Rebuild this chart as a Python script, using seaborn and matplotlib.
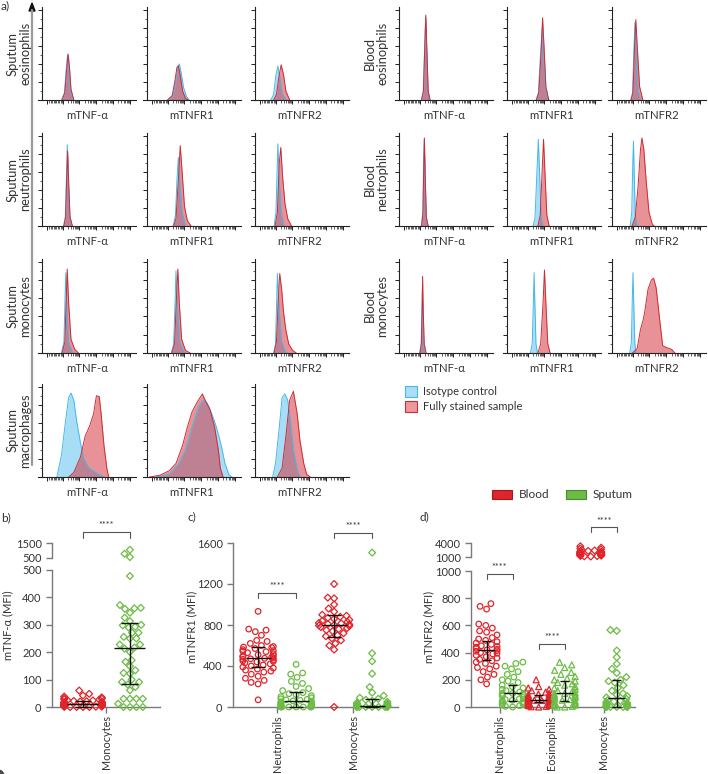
import warnings
import numpy as np
import pandas as pd
import matplotlib
matplotlib.use('Agg')
import matplotlib.pyplot as plt
from matplotlib.patches import Patch, Polygon
from matplotlib.lines import Line2D
import matplotlib.transforms as mtransforms
import seaborn as sns

warnings.filterwarnings('ignore')

# ---------------- a) flow histograms: (x % of axis, height % of mode) ----------------
hist_markers = ['mTNF-α', 'mTNFR1', 'mTNFR2']

# each panel: (isotype control, fully stained sample)
sputum_eos = [
    ([(21, 0), (24, 8), (26, 35), (27.3, 50), (28.5, 38), (30, 12), (33, 0)],
     [(21.5, 0), (24.5, 8), (26.5, 35), (28, 51), (29.5, 35), (31, 12), (34, 0)]),
    ([(23, 0), (28, 5), (31, 22), (33, 36), (34.5, 40), (36.5, 30), (39, 14), (42, 4), (45, 0)],
     [(22, 0), (27, 5), (30, 22), (32, 36), (33.5, 38), (35.5, 27), (38, 10), (41, 2), (44, 0)]),
    ([(17, 0), (20, 6), (22.5, 28), (24.5, 37.5), (26.5, 26), (29, 8), (33, 0)],
     [(20, 0), (23, 6), (25.5, 25), (28, 39), (30.5, 28), (33, 10), (37, 0)]),
]
sputum_neu = [
    ([(23, 0), (25, 10), (26.3, 60), (27, 90), (28, 55), (29.5, 12), (32, 0)],
     [(23.5, 0), (25.3, 10), (26.5, 55), (27.5, 83), (28.5, 50), (30, 10), (32.5, 0)]),
    ([(28, 0), (30.5, 12), (32, 50), (33.5, 76), (35, 50), (37.5, 15), (41, 0)],
     [(28.5, 0), (31, 8), (33.5, 50), (35.5, 89), (37.5, 60), (40, 22), (43, 6), (47, 0)]),
    ([(20.5, 0), (22.5, 15), (23.8, 65), (24.5, 91), (25.8, 55), (28, 15), (31, 0)],
     [(21.5, 0), (24, 15), (26, 70), (27.6, 87), (29.5, 55), (32, 25), (35, 8), (39, 0)]),
]
sputum_mono = [
    ([(21, 0), (23.5, 12), (24.7, 60), (25.5, 88), (26.5, 50), (28.5, 12), (32, 2), (34, 0)],
     [(21.5, 0), (24.5, 12), (26, 60), (27, 92), (28.5, 55), (31, 15), (35, 4), (39, 0)]),
    ([(26, 0), (28.5, 10), (30, 55), (31, 90), (32.3, 55), (35, 12), (39, 2), (42, 0)],
     [(26.5, 0), (29.5, 10), (31.5, 60), (33, 92), (34.5, 55), (37, 15), (41, 3), (46, 0)]),
    ([(20, 0), (22, 10), (23.2, 55), (24, 87), (25.5, 55), (28, 15), (32, 2), (35, 0)],
     [(20.5, 0), (23, 12), (25, 60), (26.5, 87), (28.5, 70), (30.5, 45), (33, 25), (36, 10), (40, 3), (44, 0)]),
]
sputum_mac = [
    ([(16, 0), (21, 25), (25, 60), (28.5, 88), (31, 93), (34, 85), (37, 62), (41, 38),
      (44.6, 20), (50, 10), (59, 4), (66, 0)],
     [(28.5, 0), (34, 5), (41, 22), (46, 45), (51, 57), (55, 70), (58, 90), (61, 89),
      (63, 70), (66, 35), (69, 10), (71, 0)]),
    ([(10, 0), (24, 3), (34, 15), (41, 30), (48, 55), (55, 78), (60, 85), (64, 82), (69, 70),
      (74, 55), (79, 35), (83, 15), (87, 3), (90, 0)],
     [(3, 0), (14, 2), (24, 7), (31, 15), (38, 35), (43, 55), (48, 72), (53, 82), (59, 92),
      (62, 85), (67, 75), (72, 55), (76, 30), (78, 10), (81, 0)]),
    ([(19, 0), (22, 15), (26, 55), (29, 88), (32, 92), (35, 85), (38, 60), (41, 30), (45, 8), (48, 0)],
     [(24, 0), (29, 10), (33, 45), (37, 85), (41, 95), (45, 70), (48, 40), (52, 15), (55, 3), (59, 0)]),
]
blood_eos = [
    ([(24, 0), (26, 10), (27.5, 60), (28.5, 92), (29.5, 60), (31, 10), (33, 0)],
     [(24.2, 0), (26.2, 10), (27.7, 62), (28.7, 94), (29.7, 60), (31.2, 10), (33.2, 0)]),
    ([(31, 0), (33.5, 8), (35.5, 45), (37.5, 79), (39, 50), (41, 12), (44, 0)],
     [(31.5, 0), (34, 8), (36.5, 55), (38, 91), (39.5, 60), (41.5, 15), (44.5, 0)]),
    ([(20, 0), (22, 8), (23.5, 55), (24.5, 86), (25.8, 55), (28, 10), (31, 0)],
     [(20.5, 0), (22.5, 8), (24.2, 60), (25.5, 89), (27, 60), (29.5, 15), (33, 0)]),
]
blood_neu = [
    ([(24, 0), (25.5, 15), (26.4, 70), (27, 96), (27.8, 60), (29, 10), (31, 0)],
     [(24.2, 0), (25.7, 15), (26.6, 70), (27.2, 97.5), (28, 60), (29.2, 10), (31.2, 0)]),
    ([(28, 0), (30, 10), (32, 60), (33.5, 96), (34.8, 60), (36.5, 10), (38.5, 0)],
     [(33, 0), (35.5, 12), (37.5, 60), (39, 96), (40.5, 60), (42.5, 12), (45, 0)]),
    ([(19.5, 0), (21.2, 15), (22.3, 70), (23, 94), (23.8, 60), (25, 10), (27, 0)],
     [(21.5, 0), (25, 10), (28, 45), (30.5, 85), (32, 97.5), (34, 85), (36.5, 50), (39.5, 15), (43, 2), (45, 0)]),
]
blood_mono = [
    ([(22, 0), (23.8, 10), (24.5, 40), (25, 70), (25.6, 40), (26.5, 8), (28, 0)],
     [(22.5, 0), (24, 10), (24.8, 50), (25.3, 84), (26, 45), (27, 10), (29, 0)]),
    ([(25, 0), (27, 10), (28.2, 55), (29, 88), (29.8, 55), (31, 10), (32.5, 0)],
     [(33, 0), (36, 10), (38.5, 55), (40, 91), (41.5, 55), (43.5, 10), (46, 0)]),
    ([(19, 0), (20.8, 12), (21.8, 60), (22.5, 88), (23.3, 55), (24.5, 10), (26, 0)],
     [(22, 0), (27, 5), (30.5, 26), (33, 35), (35, 45), (38.5, 70), (42, 80), (44.4, 82),
      (47, 72), (51, 35), (54, 8), (58, 6), (63.5, 4), (67, 0)]),
]

sputum_rows = [('Sputum\neosinophils', sputum_eos), ('Sputum\nneutrophils', sputum_neu),
               ('Sputum\nmonocytes', sputum_mono), ('Sputum\nmacrophages', sputum_mac)]
blood_rows = [('Blood\neosinophils', blood_eos), ('Blood\nneutrophils', blood_neu),
              ('Blood\nmonocytes', blood_mono)]

# ---------------- b-d) MFI per subject ----------------
b_blood_mono = [0, 0, 0, 0, 1, 1, 2, 2, 3, 3, 4, 4, 5, 5, 6, 6, 7, 7, 8, 8, 9, 9, 10, 10, 11,
                11, 12, 12, 13, 14, 15, 16, 17, 18, 19, 20, 21, 22, 24, 25, 27, 28, 30, 32,
                35, 38, 42, 48, 60]
b_sputum_mono = [1050, 780, 560, 478, 372, 360, 358, 362, 344, 326, 313, 298, 300, 293, 290,
                 271, 271, 256, 250, 250, 228, 228, 213, 217, 201, 171, 165, 149, 134, 124,
                 122, 100, 91, 91, 82, 73, 61, 30, 30, 30, 30, 12, 0, 0, 0, 0]

c_blood_neu = [933, 760, 750, 735, 700, 650, 640, 620, 600, 590, 585, 580, 570, 560, 550, 545,
               540, 530, 520, 510, 500, 495, 490, 485, 480, 475, 470, 465, 460, 450, 445, 440,
               430, 420, 410, 400, 390, 380, 370, 360, 350, 340, 320, 300, 280, 260, 240, 225, 70]
c_sputum_neu = [416, 332, 320, 290, 250, 230, 200, 180, 160, 140, 130, 120, 110, 100, 90, 80,
                75, 70, 65, 60, 55, 50, 45, 40, 35, 30, 25, 20, 15, 10, 8, 5, 3, 2, 1,
                0, 0, 0, 0, 0, 0]
c_blood_mono = [1200, 1067, 1060, 1000, 960, 930, 900, 890, 880, 870, 860, 850, 840, 830, 820,
                815, 810, 805, 800, 795, 790, 780, 770, 760, 750, 740, 720, 700, 690, 670, 650,
                620, 600, 560, 0]
c_sputum_mono = [1506, 524, 446, 325, 195, 140, 110, 90, 80, 70, 60, 50, 40, 35, 30, 25, 20,
                 15, 12, 10, 8, 5, 3, 2, 1, 0, 0, 0, 0, 0, 0, 0]

d_blood_neu = [760, 740, 720, 610, 600, 580, 560, 550, 530, 510, 500, 490, 480, 470, 460, 450,
               445, 440, 430, 425, 420, 415, 410, 400, 395, 390, 380, 370, 360, 350, 340, 330,
               320, 300, 290, 280, 260, 240, 220, 200, 170]
d_sputum_neu = [330, 320, 300, 280, 260, 240, 220, 200, 190, 180, 160, 150, 140, 130, 120, 110,
                100, 100, 95, 90, 85, 80, 70, 60, 55, 50, 45, 40, 35, 30, 25, 20, 15, 10, 5, 0]
d_blood_eos = [200, 150, 140, 130, 120, 110, 100, 95, 90, 85, 80, 75, 70, 65, 60, 58, 55, 52,
               50, 48, 45, 42, 40, 38, 35, 30, 28, 25, 20, 15, 12, 10, 5, 2, 0]
d_sputum_eos = [329, 310, 290, 270, 255, 240, 225, 210, 200, 190, 180, 170, 160, 150, 140, 130,
                120, 110, 105, 100, 95, 90, 85, 80, 75, 70, 60, 55, 50, 45, 40, 35, 30, 25, 20,
                15, 10, 5, 0, 0]
d_blood_mono = [3300, 3000, 2800, 2600, 2500, 2400, 2300, 2200, 2100, 2050, 2000, 1950, 1900,
                1850, 1800, 1750, 1700, 1650, 1600, 1550, 1500, 1450, 1400, 1350, 1300, 1250,
                1200, 1150, 1100]
d_sputum_mono = [566, 560, 415, 366, 317, 280, 250, 220, 200, 190, 180, 160, 140, 120, 100, 90,
                 80, 70, 60, 50, 45, 40, 35, 30, 25, 20, 15, 10, 8, 5, 3, 0, 0, 0, 0, 0, 0, 0]

# median and interquartile range bars, one per slot
b_med, b_q1, b_q3 = [10, 216], [0, 85], [22, 308]
c_med, c_q1, c_q3 = [481, 59, 803, 6], [390, 0, 683, 0], [585, 143, 897, 78]
d_med = [422, 103, 54, 102, np.nan, 68]
d_q1 = [348, 44, 37, 44, np.nan, 0]
d_q3 = [485, 159, 86, 190, np.nan, 195]

# ---------------- style ----------------
W, H = 708, 774
sns.set_theme(style='ticks')
plt.rcParams['font.family'] = ['Lato', 'DejaVu Sans']
plt.rcParams['axes.unicode_minus'] = False

RED = '#e0242b'
GREEN = '#6cbb45'
PAL = {'Blood': RED, 'Sputum': GREEN}
CELL_MARKERS = {'Neutrophils': ('o', 4.0), 'Eosinophils': ('^', 4.3), 'Monocytes': ('D', 3.5)}
ISO_FILL, ISO_EDGE = '#5fc4ef', '#45b8e8'
FULL_FILL, FULL_EDGE = '#d42d38', '#cf2a35'
TXT = '#333333'

fig = plt.figure(figsize=(W / 100, H / 100), dpi=100)


def px_axes(x0, y0, x1, y1):
    return fig.add_axes([x0 / W, 1 - y1 / H, (x1 - x0) / W, (y1 - y0) / H])


# x ticks imitating a biexponential flow axis
x_major = [6, 23, 40, 58, 76, 94]
x_minor = list(np.arange(8, 23, 1.5))
for lo, hi in [(23, 40), (40, 58), (58, 76), (76, 94)]:
    x_minor += [lo + (hi - lo) * np.log10(k) for k in range(2, 10)]


def hist_panel(ax, iso, full, label):
    for pts, fc, ec, a in [(iso, ISO_FILL, ISO_EDGE, 0.55), (full, FULL_FILL, FULL_EDGE, 0.52)]:
        xs = [p[0] for p in pts]
        ys = [p[1] for p in pts]
        ax.fill_between(xs, ys, 0, color=fc, alpha=a, lw=0)
        sns.lineplot(x=xs, y=ys, ax=ax, color=ec, lw=0.7, sort=False, estimator=None)
    ax.set_xlim(-4, 100)
    ax.set_ylim(0, 103)
    sns.despine(ax=ax)
    ax.spines['left'].set_position(('data', 0))
    for s in ['left', 'bottom']:
        ax.spines[s].set_color('#222')
        ax.spines[s].set_linewidth(0.8)
    ax.set_xticks(x_major)
    ax.set_xticks(x_minor, minor=True)
    ax.set_yticks(range(0, 101, 20))
    ax.set_yticks(range(10, 100, 20), minor=True)
    ax.tick_params(which='major', length=3, width=0.7, color='#222',
                   labelbottom=False, labelleft=False)
    ax.tick_params(which='minor', length=1.8, width=0.5, color='#222')
    ax.set_xlabel('')
    ax.set_ylabel('')
    ax.text(0.5, -0.17, label, transform=ax.transAxes, ha='center', va='center',
            fontsize=8.2, color=TXT)


row_px = [(7, 100), (133, 226), (259, 353), (384, 477)]
left_cols = [42, 147, 255]
right_cols = [399, 507, 612]

for r, (name, panels) in enumerate(sputum_rows):
    t, b = row_px[r]
    for c, (iso, full) in enumerate(panels):
        ax = px_axes(left_cols[c] - 4, t, left_cols[c] + 94, b)
        hist_panel(ax, iso, full, hist_markers[c])
    fig.text(19 / W, 1 - (t + b) / 2 / H, name, rotation=90, ha='center', va='center',
             fontsize=9.3, color=TXT, linespacing=1.1)

for r, (name, panels) in enumerate(blood_rows):
    t, b = row_px[r]
    for c, (iso, full) in enumerate(panels):
        ax = px_axes(right_cols[c] - 4, t, right_cols[c] + 94, b)
        hist_panel(ax, iso, full, hist_markers[c])
    fig.text(376 / W, 1 - (t + b) / 2 / H, name, rotation=90, ha='center', va='center',
             fontsize=9.3, color=TXT, linespacing=1.1)

# vertical arrow along the sputum block
fig.add_artist(Line2D([32 / W, 32 / W], [1 - 465 / H, 1 - 10 / H], color='#9a9a9a', lw=1.6))
fig.add_artist(Polygon([[29 / W, 1 - 11 / H], [35 / W, 1 - 11 / H], [32 / W, 1 - 3 / H]],
                       closed=True, color='#111', transform=fig.transFigure))

# histogram legend
fig.legend(handles=[Patch(fc='#a9def5', ec=ISO_EDGE, lw=0.8),
                    Patch(fc='#eb999d', ec=FULL_EDGE, lw=0.8)],
           labels=['Isotype control', 'Fully stained sample'],
           loc='upper left', bbox_to_anchor=(405 / W, 1 - 386 / H), frameon=False,
           borderpad=0, borderaxespad=0,
           fontsize=8, handlelength=1.1, handleheight=1.1, handletextpad=0.5,
           labelspacing=0.35, labelcolor=TXT)


# ---------------- b-d scatter panels ----------------
def make_df(entries):
    rows = []
    for cell, tissue, vals in entries:
        for v in vals:
            rows.append((cell, tissue, f'{cell} {tissue}', v))
    return pd.DataFrame(rows, columns=['cell', 'tissue', 'slot', 'value'])


def swarm(ax, df, order, lo=None, hi=None):
    for cell, (mk, sz) in CELL_MARKERS.items():
        sub = df[df['cell'] == cell]
        if lo is not None:
            sub = sub[sub['value'] > lo]
        if hi is not None:
            sub = sub[sub['value'] <= hi]
        if sub.empty:
            continue
        sns.swarmplot(data=sub, x='slot', y='value', hue='tissue', order=order,
                      hue_order=['Blood', 'Sputum'], palette=PAL, marker=mk, size=sz,
                      linewidth=0.9, legend=False, ax=ax, clip_on=False, zorder=3)
    # open markers, as in the original
    for coll in ax.collections:
        fc = coll.get_facecolors()
        if len(fc):
            coll.set_edgecolors(fc)
            coll.set_facecolors('none')
    ax.set_xlabel('')
    ax.set_ylabel('')


def iqr_bars(ax, med, q1, q3):
    for i, (m, a, b) in enumerate(zip(med, q1, q3)):
        if np.isnan(m):
            continue
        kw = dict(color='#111', lw=1.0, zorder=6, clip_on=False)
        ax.hlines(m, i - 0.33, i + 0.33, **kw)
        ax.vlines(i, a, b, **kw)
        ax.hlines([a, b], i - 0.18, i + 0.18, **kw)


def style_mfi(ax, xlim, cells):
    sns.despine(ax=ax)
    for s in ['left', 'bottom']:
        ax.spines[s].set_color('#7a7a7a')
        ax.spines[s].set_linewidth(1.0)
    ax.set_xlim(*xlim)
    ax.set_xticks([2 * i + 0.5 for i in range(len(cells))], cells, rotation=90)
    ax.tick_params(colors='#7a7a7a', labelcolor=TXT, labelsize=8, length=4, width=1)
    ax.tick_params(axis='x', labelsize=7.8, pad=2)


def style_upper(ax, xlim, ylim, ticks):
    sns.despine(ax=ax, bottom=True)
    ax.spines['left'].set_color('#7a7a7a')
    ax.spines['left'].set_linewidth(1.0)
    ax.set_xlim(*xlim)
    ax.set_ylim(*ylim)
    ax.set_xticks([])
    ax.set_yticks(ticks, [str(t) for t in ticks])
    ax.tick_params(colors='#7a7a7a', labelcolor=TXT, labelsize=8, length=4, width=1)


def bracket(ax, x0, x1, yf, drop):
    tr = mtransforms.blended_transform_factory(ax.transData, ax.transAxes)
    ax.plot([x0, x0, x1, x1], [yf - drop, yf, yf, yf - drop], color='#555', lw=0.8,
            transform=tr, clip_on=False)
    ax.text((x0 + x1) / 2, yf + 0.012, '****', transform=tr, ha='center', va='bottom',
            fontsize=6.5, color=TXT)


# b) mTNF-alpha
df_b = make_df([('Monocytes', 'Blood', b_blood_mono), ('Monocytes', 'Sputum', b_sputum_mono)])
order_b = ['Monocytes Blood', 'Monocytes Sputum']
ax_b = px_axes(52, 570, 160, 707)
ax_bu = px_axes(52, 543, 160, 558)
swarm(ax_b, df_b, order_b, hi=500)
swarm(ax_bu, df_b, order_b, lo=500)
ax_b.set_ylim(0, 500)
ax_b.set_yticks(range(0, 501, 100))
style_mfi(ax_b, (-0.66, 1.64), ['Monocytes'])
style_upper(ax_bu, (-0.66, 1.64), (500, 1500), [500, 1500])
iqr_bars(ax_b, b_med, b_q1, b_q3)
bracket(ax_b, 0, 1, 1.277, 0.04)

# c) mTNFR1
df_c = make_df([('Neutrophils', 'Blood', c_blood_neu), ('Neutrophils', 'Sputum', c_sputum_neu),
                ('Monocytes', 'Blood', c_blood_mono), ('Monocytes', 'Sputum', c_sputum_mono)])
order_c = ['Neutrophils Blood', 'Neutrophils Sputum', 'Monocytes Blood', 'Monocytes Sputum']
ax_c = px_axes(233, 543, 398, 707)
swarm(ax_c, df_c, order_c)
ax_c.set_ylim(0, 1600)
ax_c.set_yticks(range(0, 1601, 400))
style_mfi(ax_c, (-0.66, 3.68), ['Neutrophils', 'Monocytes'])
iqr_bars(ax_c, c_med, c_q1, c_q3)
bracket(ax_c, 0, 1, 0.695, 0.033)
bracket(ax_c, 2, 3, 1.061, 0.033)

# d) mTNFR2
df_d = make_df([('Neutrophils', 'Blood', d_blood_neu), ('Neutrophils', 'Sputum', d_sputum_neu),
                ('Eosinophils', 'Blood', d_blood_eos), ('Eosinophils', 'Sputum', d_sputum_eos),
                ('Monocytes', 'Blood', d_blood_mono), ('Monocytes', 'Sputum', d_sputum_mono)])
order_d = ['Neutrophils Blood', 'Neutrophils Sputum', 'Eosinophils Blood', 'Eosinophils Sputum',
           'Monocytes Blood', 'Monocytes Sputum']
ax_d = px_axes(471, 571, 635, 707)
ax_du = px_axes(471, 543, 635, 557)
swarm(ax_d, df_d, order_d, hi=1000)
swarm(ax_du, df_d, order_d, lo=1000)
ax_d.set_ylim(0, 1000)
ax_d.set_yticks(range(0, 1001, 200))
style_mfi(ax_d, (-0.6, 5.7), ['Neutrophils', 'Eosinophils', 'Monocytes'])
style_upper(ax_du, (-0.6, 5.7), (1000, 4000), [1000, 4000])
iqr_bars(ax_d, d_med, d_q1, d_q3)
bracket(ax_d, 0, 1, 0.978, 0.035)
bracket(ax_d, 2, 3, 0.463, 0.035)
bracket(ax_d, 4, 5, 1.32, 0.035)

# axis titles and panel letters
fig.text(8 / W, 1 - 625 / H, 'mTNF-α (MFI)', rotation=90, ha='center', va='center',
         fontsize=8, color=TXT)
fig.text(192 / W, 1 - 627 / H, 'mTNFR1 (MFI)', rotation=90, ha='center', va='center',
         fontsize=8, color=TXT)
fig.text(429 / W, 1 - 627 / H, 'mTNFR2 (MFI)', rotation=90, ha='center', va='center',
         fontsize=8, color=TXT)
for txt, x, y in [('a)', 1, 6), ('b)', 1, 518), ('c)', 187, 517), ('d)', 420, 517)]:
    fig.text(x / W, 1 - y / H, txt, ha='left', va='center', fontsize=8.5, color=TXT)

# Blood / Sputum legend
fig.legend(handles=[Patch(fc=RED, ec='#9d1a1f', lw=0.8), Patch(fc=GREEN, ec='#4b8a2c', lw=0.8)],
           labels=['Blood', 'Sputum'], ncol=2, loc='center left',
           bbox_to_anchor=(481 / W, 1 - 495 / H), frameon=False, fontsize=8.5,
           handlelength=1.7, handleheight=0.9, handletextpad=0.6, columnspacing=1.4,
           labelcolor=TXT)

fig.savefig('out.png', dpi=100)
